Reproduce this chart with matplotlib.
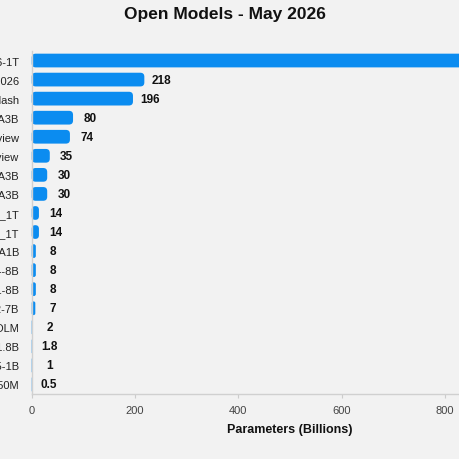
import matplotlib
matplotlib.use("Agg")
import matplotlib.pyplot as plt
from matplotlib.patches import FancyBboxPatch

# models, largest first (only the tail of each name fits in the crop)
models = [
    "Kimi-K2.6-1T", "DeepSeek-V4-2026", "Step-3.5-Flash", "Qwen3-Next-80B-A3B",
    "Ling-2-74B-Preview", "Seed-OSS-35B-Preview", "Qwen3-30B-A3B",
    "Nemotron-3-Nano-30B-A3B", "Phi-5-14B_1T", "Olmo-3-14B_1T", "LFM2-8B-A1B",
    "Ministral-4-8B", "Llama-3.1-8B", "OLMo-2-7B", "SmolLM3-2B-OLM", "Qwen3-1.8B",
    "Gemma-3.5-1B", "LFM2-350M",
]
params = [1000, 218, 196, 80, 74, 35, 30, 30, 14, 14, 8, 8, 8, 7, 2, 1.8, 1, 0.5]
value_labels = ["1000", "218", "196", "80", "74", "35", "30", "30", "14", "14",
                "8", "8", "8", "7", "2", "1.8", "1", "0.5"]
xticks = [0, 200, 400, 600, 800, 1000]

BG = "#f2f2f2"
BLUE = "#0b8cf0"

plt.rcParams["font.family"] = ["Liberation Sans", "DejaVu Sans"]

fig = plt.figure(figsize=(4.6, 4.6), dpi=100, facecolor=BG)
ax = fig.add_axes([31.7 / 460, 65 / 460, 516.7 / 460, 343 / 460])
ax.set_facecolor(BG)

n = len(models)
ys = list(range(n))
bar_h = 0.72
ax.set_xlim(0, 1000)
ax.set_ylim(n - 0.5, -0.5)

# rounded bars: radius ~4 px -> data units
px_x = 516.7 / 1000
px_y = 343 / n
r_px = 4.0
aspect = (r_px / px_y) / (r_px / px_x)
for y, v, lab in zip(ys, params, value_labels):
    rx = min(r_px / px_x, v / 2)
    box = FancyBboxPatch((0, y - bar_h / 2), v, bar_h,
                         boxstyle=f"round,pad=0,rounding_size={rx}",
                         mutation_aspect=aspect, facecolor=BLUE,
                         edgecolor="none", clip_on=False)
    ax.add_patch(box)
    ax.annotate(lab, (v, y), xytext=(17, 0),
                textcoords="offset pixels", ha="center", va="center",
                fontsize=8.5, fontweight="bold", color="#111111")

ax.set_yticks(ys)
ax.set_yticklabels(models, fontsize=8, color="#222222")
ax.tick_params(axis="y", length=0, pad=9)
ax.set_xticks(xticks)
ax.set_xticklabels([str(t) for t in xticks], fontsize=8, color="#444444")
ax.tick_params(axis="x", length=3, color="#cccccc", pad=5)

for side in ("top", "right"):
    ax.spines[side].set_visible(False)
for side in ("left", "bottom"):
    ax.spines[side].set_color("#d0d0d0")
    ax.spines[side].set_linewidth(1)

ax.set_xlabel("Parameters (Billions)", fontsize=9, fontweight="heavy",
              color="#111111", labelpad=6)
fig.text(225 / 460, 1 - 14 / 460, "Open Models - May 2026", ha="center",
         va="center", fontsize=12.5, fontweight="bold", color="#111111")

fig.savefig("out.png", dpi=100, facecolor=BG)
